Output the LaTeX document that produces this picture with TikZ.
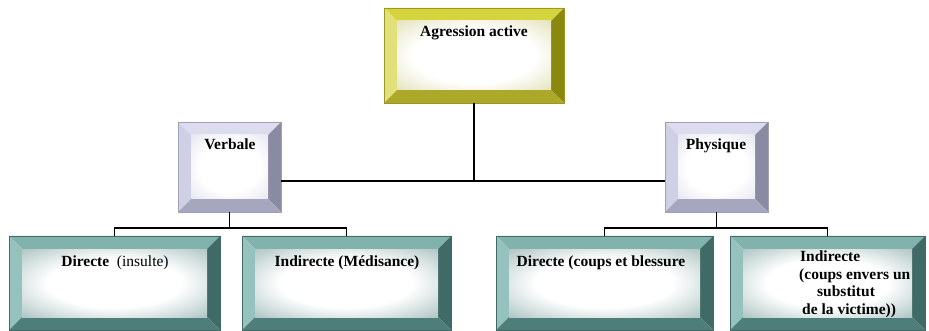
\documentclass[tikz,border=0pt]{standalone}
\usepackage{fontspec}
\setmainfont{Liberation Serif}
\newfontfamily\tmsfont{Liberation Serif}
\usetikzlibrary{calc}
% yellow set
\definecolor{yT}{HTML}{D6D43C}\definecolor{yL}{HTML}{E2E07A}\definecolor{yR}{HTML}{8A880E}\definecolor{yB}{HTML}{ABA82A}\definecolor{yF}{HTML}{CFCD8A}\definecolor{yO}{HTML}{9A9820}
% lavender set
\definecolor{lT}{HTML}{DCDCEE}\definecolor{lL}{HTML}{CFCFE6}\definecolor{lR}{HTML}{8A8AA2}\definecolor{lB}{HTML}{A6A6BF}\definecolor{lF}{HTML}{D2D2E6}\definecolor{lO}{HTML}{A0A0B8}
% teal set
\definecolor{tT}{HTML}{82B2AC}\definecolor{tL}{HTML}{96C2BD}\definecolor{tR}{HTML}{3F6A65}\definecolor{tB}{HTML}{4E7E79}\definecolor{tF}{HTML}{7FA3A0}\definecolor{tO}{HTML}{3F6A65}
\pgfdeclareradialshading{yface}{\pgfpoint{0bp}{0bp}}{color(0bp)=(white); color(20bp)=(white); color(48bp)=(yF); color(75bp)=(yF)}
\pgfdeclareradialshading{lface}{\pgfpoint{0bp}{0bp}}{color(0bp)=(white); color(20bp)=(white); color(48bp)=(lF); color(75bp)=(lF)}
\pgfdeclareradialshading{tface}{\pgfpoint{0bp}{0bp}}{color(0bp)=(white); color(18bp)=(white); color(46bp)=(tF); color(75bp)=(tF)}
\newcommand\bw{13pt}
\tikzset{
  bevbox/.style={rectangle, inner sep=0pt, outer sep=0pt, draw=#1O, line width=0.3pt, anchor=north west,
    path picture={
      \path (path picture bounding box.north west) coordinate (pNW)
            (path picture bounding box.north east) coordinate (pNE)
            (path picture bounding box.south west) coordinate (pSW)
            (path picture bounding box.south east) coordinate (pSE);
      \path ($(pNW)+(\bw,-\bw)$) coordinate (iNW) ($(pNE)+(-\bw,-\bw)$) coordinate (iNE)
            ($(pSW)+(\bw,\bw)$) coordinate (iSW) ($(pSE)+(-\bw,\bw)$) coordinate (iSE);
      \fill[#1T] (pNW) -- (pNE) -- (iNE) -- (iNW) -- cycle;
      \fill[#1L] (pNW) -- (iNW) -- (iSW) -- (pSW) -- cycle;
      \fill[#1R] (pNE) -- (pSE) -- (iSE) -- (iNE) -- cycle;
      \fill[#1B] (pSW) -- (iSW) -- (iSE) -- (pSE) -- cycle;
      \shade[shading=#1face] (iNW) rectangle (iSE);
    }},
  txt/.style={font=\tmsfont\fontsize{15.5pt}{17.5pt}\selectfont\bfseries, inner sep=0pt, anchor=base, align=center},
  conn/.style={draw=black, line width=1.3pt},
}
\begin{document}
\begin{tikzpicture}[x=1pt,y=-1pt]
\useasboundingbox (0,0) rectangle (929,331);
% boxes
\node[bevbox=y, minimum width=180pt, minimum height=95pt] (top) at (384,8) {};
\node[bevbox=l, minimum width=103pt, minimum height=90pt] (verb) at (178,122) {};
\node[bevbox=l, minimum width=103pt, minimum height=90pt] (phys) at (665,122) {};
\node[bevbox=t, minimum width=211pt, minimum height=94pt] (d1) at (9,236) {};
\node[bevbox=t, minimum width=209pt, minimum height=94pt] (i1) at (242,236) {};
\node[bevbox=t, minimum width=217pt, minimum height=94pt] (d2) at (496,236) {};
\node[bevbox=t, minimum width=195pt, minimum height=94pt] (i2) at (730,236) {};
% texts
\node[txt] (ttop) at (474,37) {Agression active};
\node[txt] (tverb) at (230,150) {Verbale};
\node[txt] (tphys) at (716,150) {Physique};
\node[txt] (td1) at (115,266) {Directe\ \ \mdseries(insulte)};
\node[txt] (ti1) at (347,266) {Indirecte (Médisance)};
\node[txt] (td2) at (601,266) {Directe (coups et blessure};
\node[txt, anchor=north west, align=left] (ti2) at (799,251) {\hspace{1pt}Indirecte\\(coups envers un\\\hspace{18pt}substitut\\\hspace{3pt}de la victime))};
% connectors
\coordinate (j) at (474,181);
\coordinate (jl) at (230,228);
\coordinate (jr) at (716,228);
\draw[conn] (top.south) -- (j);
\draw[conn] (verb.east |- j) -- (phys.west |- j);
\draw[conn] (verb.south) -- (verb.south |- jl);
\draw[conn] (phys.south) -- (phys.south |- jr);
\draw[conn] (d1.north) -- (d1.north |- jl) -- (i1.north |- jl) -- (i1.north);
\draw[conn] (d2.north) -- (d2.north |- jr) -- (i2.north |- jr) -- (i2.north);
\end{tikzpicture}
\end{document}
